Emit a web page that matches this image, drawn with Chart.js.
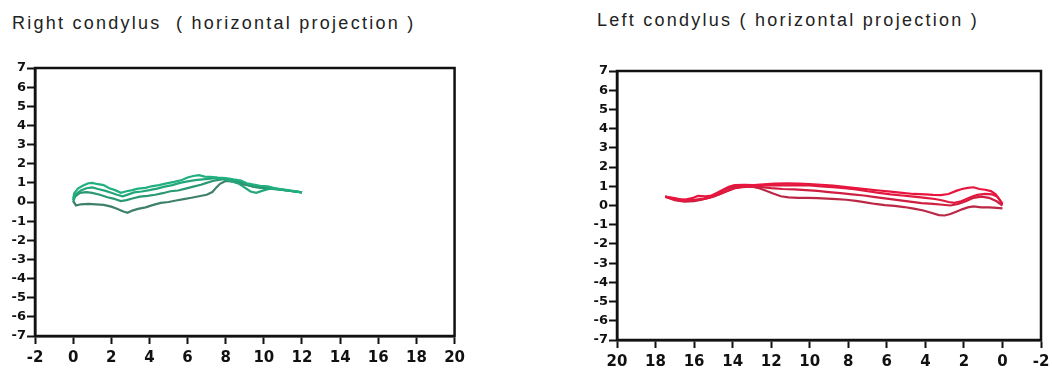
<!DOCTYPE html>
<html lang="en">
<head>
  <meta charset="UTF-8">
  <title>Condylus tracings</title>
  <style>
    body {
      margin: 0;
      padding: 0;
      background-color: white;
      width: 1052px;
      height: 369px;
      position: relative;
      overflow: hidden;
      font-family: 'Liberation Sans', Arial, sans-serif;
    }
    .title {
      position: absolute;
      font-size: 18px;
      line-height: 1;
      letter-spacing: 2.25px;
      color: #222;
      white-space: pre;
    }
    .chart-box {
      position: absolute;
      top: 50px;
      height: 319px;
    }
  </style>
</head>
<body>
  <div class="title" style="left: 12px; top: 14px;">Right condylus  ( horizontal projection )</div>
  <div class="title" style="left: 597px; top: 11px;">Left condylus ( horizontal projection )</div>

  <div class="chart-box" style="left: 0; width: 470px;"><canvas id="rightChart"></canvas></div>
  <div class="chart-box" style="left: 560px; width: 492px;"><canvas id="leftChart"></canvas></div>

  <script src="https://cdn.jsdelivr.net/npm/chart.js"></script>
  <script>
    // axis ticks, shared by both plots (mm)
    const xTicks = [-2, 0, 2, 4, 6, 8, 10, 12, 14, 16, 18, 20];
    const yTicks = [-7, -6, -5, -4, -3, -2, -1, 0, 1, 2, 3, 4, 5, 6, 7];

    // right condylus, four recorded passes [x, y]
    const rightPass1 = [[0,0.1],[0.05,0.45],[0.25,0.7],[0.5,0.85],[0.8,0.98],[1.0,1.0],[1.3,0.93],[1.6,0.88],[1.9,0.72],[2.2,0.62],[2.5,0.48],[2.8,0.56],[3.1,0.62],[3.4,0.7],[3.8,0.74],[4.1,0.82],[4.5,0.88],[4.9,0.97],[5.3,1.05],[5.7,1.15],[6.0,1.28],[6.3,1.36],[6.6,1.4],[6.9,1.33],[7.2,1.31],[7.6,1.27],[8.0,1.25],[8.4,1.18],[8.8,1.12],[9.1,0.98],[9.4,0.92],[9.8,0.85],[10.2,0.82],[10.6,0.72],[11.0,0.66],[11.5,0.58],[12.0,0.5]];
    const rightPass2 = [[0,0.2],[0.15,0.42],[0.4,0.6],[0.7,0.72],[1.0,0.76],[1.3,0.68],[1.7,0.58],[2.0,0.48],[2.3,0.38],[2.6,0.3],[2.9,0.4],[3.2,0.5],[3.6,0.55],[4.0,0.62],[4.4,0.7],[4.8,0.8],[5.2,0.88],[5.6,1.0],[6.0,1.08],[6.4,1.14],[6.8,1.18],[7.2,1.22],[7.5,1.26],[7.9,1.2],[8.3,1.08],[8.7,0.95],[9.0,0.75],[9.3,0.55],[9.6,0.48],[9.9,0.58],[10.3,0.7],[10.7,0.66],[11.2,0.6],[11.6,0.55],[12.0,0.5]];
    const rightPass3 = [[0,0.0],[0.1,0.28],[0.35,0.48],[0.7,0.52],[1.0,0.48],[1.4,0.38],[1.8,0.25],[2.1,0.18],[2.5,0.05],[2.8,0.1],[3.1,0.18],[3.5,0.28],[3.9,0.32],[4.3,0.38],[4.7,0.46],[5.1,0.56],[5.5,0.6],[5.9,0.7],[6.3,0.8],[6.7,0.9],[7.0,1.0],[7.4,1.12],[7.8,1.18],[8.2,1.2],[8.6,1.1],[9.0,0.95],[9.4,0.8],[9.8,0.74],[10.3,0.72],[10.8,0.66],[11.4,0.58],[12.0,0.5]];
    const rightPass4 = [[0,0.05],[0.15,-0.18],[0.4,-0.12],[0.8,-0.1],[1.2,-0.12],[1.6,-0.15],[2.0,-0.24],[2.3,-0.35],[2.6,-0.48],[2.85,-0.56],[3.1,-0.45],[3.4,-0.36],[3.8,-0.28],[4.2,-0.15],[4.6,-0.05],[5.0,0.0],[5.4,0.08],[5.8,0.15],[6.2,0.22],[6.6,0.3],[7.0,0.38],[7.3,0.52],[7.5,0.75],[7.7,0.95],[8.0,1.1],[8.4,1.06],[8.8,0.95],[9.2,0.86],[9.6,0.8],[10.1,0.76],[10.6,0.7],[11.2,0.6],[12.0,0.5]];

    // left condylus, four recorded passes [x, y]
    const leftPass1 = [[0,0.05],[0.15,0.3],[0.35,0.58],[0.6,0.75],[0.9,0.82],[1.2,0.86],[1.5,0.95],[1.8,0.92],[2.1,0.86],[2.4,0.76],[2.8,0.6],[3.2,0.54],[3.6,0.55],[4.0,0.58],[4.6,0.6],[5.2,0.66],[5.8,0.72],[6.4,0.78],[7.0,0.84],[7.6,0.9],[8.2,0.97],[8.8,1.03],[9.4,1.08],[10.0,1.12],[10.6,1.14],[11.2,1.15],[11.8,1.14],[12.4,1.1],[12.9,1.06],[13.4,1.08],[13.9,1.06],[14.2,0.98],[14.5,0.82],[14.8,0.66],[15.1,0.52],[15.4,0.48],[15.8,0.5],[16.1,0.38],[16.4,0.32],[16.7,0.3],[17.0,0.38],[17.3,0.42],[17.5,0.46]];
    const leftPass2 = [[0,0.1],[0.25,0.45],[0.55,0.58],[0.9,0.6],[1.3,0.55],[1.6,0.45],[1.9,0.32],[2.2,0.2],[2.5,0.14],[2.8,0.18],[3.1,0.26],[3.5,0.34],[4.0,0.4],[4.6,0.46],[5.2,0.52],[5.8,0.58],[6.4,0.66],[7.0,0.74],[7.6,0.84],[8.2,0.9],[8.8,0.96],[9.4,1.0],[10.0,1.04],[10.6,1.06],[11.2,1.05],[11.8,1.06],[12.4,1.04],[13.0,1.0],[13.5,0.96],[13.9,0.9],[14.3,0.76],[14.7,0.58],[15.0,0.46],[15.4,0.36],[15.8,0.3],[16.2,0.26],[16.6,0.24],[17.0,0.3],[17.5,0.46]];
    const leftPass3 = [[0,0.0],[0.3,0.22],[0.7,0.4],[1.1,0.46],[1.5,0.4],[1.9,0.22],[2.3,0.08],[2.7,0.0],[3.1,0.04],[3.6,0.08],[4.2,0.12],[4.8,0.2],[5.4,0.28],[6.0,0.36],[6.6,0.44],[7.2,0.52],[7.8,0.58],[8.4,0.64],[9.0,0.7],[9.6,0.76],[10.2,0.8],[10.8,0.84],[11.4,0.86],[12.0,0.9],[12.5,0.96],[13.0,1.0],[13.5,0.98],[13.9,0.9],[14.3,0.74],[14.7,0.58],[15.1,0.44],[15.5,0.36],[16.0,0.3],[16.5,0.3],[17.0,0.36],[17.5,0.46]];
    const leftPass4 = [[0,-0.15],[0.3,-0.12],[0.7,-0.1],[1.1,-0.1],[1.5,-0.05],[1.8,-0.1],[2.1,-0.2],[2.4,-0.32],[2.7,-0.44],[3.0,-0.52],[3.3,-0.5],[3.7,-0.38],[4.1,-0.26],[4.6,-0.16],[5.1,-0.08],[5.6,-0.02],[6.1,0.02],[6.6,0.08],[7.1,0.16],[7.6,0.24],[8.1,0.3],[8.6,0.33],[9.1,0.36],[9.6,0.38],[10.1,0.4],[10.6,0.4],[11.1,0.42],[11.5,0.48],[11.9,0.62],[12.3,0.78],[12.7,0.92],[13.1,1.0],[13.6,1.02],[14.0,0.96],[14.4,0.84],[14.8,0.6],[15.2,0.42],[15.6,0.3],[16.0,0.22],[16.5,0.2],[17.0,0.28],[17.5,0.46]];

    const tickFamily = "'DejaVu Sans', 'Liberation Sans', sans-serif";

    // closes the frame on the top and right sides
    const framePlugin = {
      id: 'frame',
      afterDraw(chart) {
        const a = chart.chartArea;
        const ctx = chart.ctx;
        ctx.save();
        ctx.strokeStyle = '#111';
        ctx.lineWidth = 2.5;
        ctx.strokeRect(a.left, a.top, a.right - a.left, a.bottom - a.top);
        ctx.restore();
      }
    };

    function toPoints(pass) {
      return pass.map(p => ({ x: p[0], y: p[1] }));
    }

    function makeChart(id, passes, colors, reverse, yWidth, xHeight, pad) {
      const ctx = document.getElementById(id).getContext('2d');
      return new Chart(ctx, {
        type: 'scatter',
        data: {
          datasets: passes.map((pass, i) => ({
            data: toPoints(pass),
            showLine: true,
            borderColor: colors[i],
            borderWidth: 2.2,
            pointRadius: 0,
            tension: 0
          }))
        },
        options: {
          responsive: true,
          maintainAspectRatio: false,
          animation: false,
          layout: { padding: pad },
          plugins: {
            legend: { display: false },
            tooltip: { enabled: false }
          },
          scales: {
            x: {
              type: 'linear',
              min: xTicks[0],
              max: xTicks[xTicks.length - 1],
              reverse: reverse,
              afterBuildTicks: s => { s.ticks = xTicks.map(v => ({ value: v })); },
              afterFit: s => { s.height = xHeight; },
              ticks: {
                color: '#111',
                font: { family: tickFamily, size: 15, weight: 'bold' },
                padding: 5,
                maxRotation: 0,
                autoSkip: false
              },
              grid: { drawOnChartArea: false, drawTicks: true, tickLength: 8, tickColor: '#111', tickWidth: 2, color: '#111' },
              border: { display: true, color: '#111', width: 2.5 }
            },
            y: {
              type: 'linear',
              min: yTicks[0],
              max: yTicks[yTicks.length - 1],
              afterBuildTicks: s => { s.ticks = yTicks.map(v => ({ value: v })); },
              afterFit: s => { s.width = yWidth; },
              ticks: {
                color: '#111',
                font: { family: tickFamily, size: 13, weight: 'bold' },
                padding: 1,
                autoSkip: false
              },
              grid: { drawOnChartArea: false, drawTicks: true, tickLength: 8, tickColor: '#111', tickWidth: 2, color: '#111' },
              border: { display: true, color: '#111', width: 2.5 }
            }
          }
        },
        plugins: [framePlugin]
      });
    }

    makeChart('rightChart',
      [rightPass1, rightPass2, rightPass3, rightPass4],
      ['#20b07f', '#24a67c', '#2a9873', '#3e8168'],
      false, 35, 33, { top: 18, right: 13, left: 0, bottom: 0 });

    makeChart('leftChart',
      [leftPass1, leftPass2, leftPass3, leftPass4],
      ['#e8163f', '#e2193f', '#cf1f40', '#bb2845'],
      true, 57, 29, { top: 21, right: 11, left: 0, bottom: 0 });
  </script>
</body>
</html>
